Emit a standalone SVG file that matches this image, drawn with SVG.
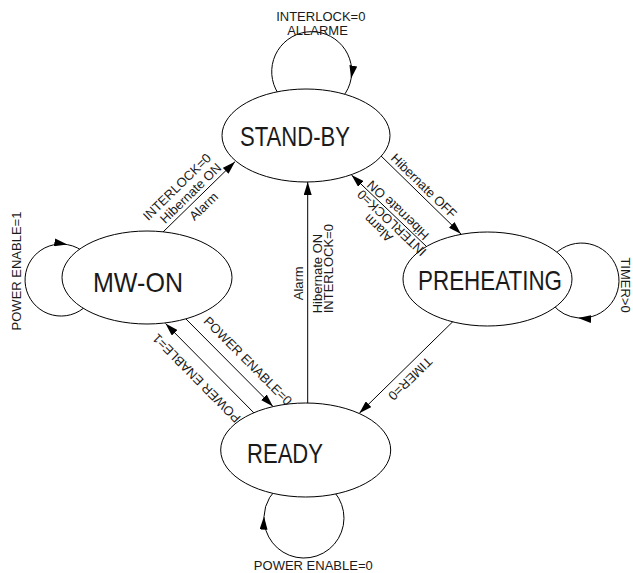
<svg xmlns="http://www.w3.org/2000/svg" width="633" height="573" viewBox="0 0 633 573">
<defs>
<style>
.edge{fill:none;stroke:#000;stroke-width:1}
.st{fill:#fff;stroke:#000;stroke-width:1}
.nm{font-family:"Liberation Sans",Arial,sans-serif;font-size:28px;fill:#1a1a1a}
.lb{font-family:"Liberation Sans",Arial,sans-serif;font-size:13px;fill:#1a1a1a}
.c{text-anchor:middle}
</style>
<marker id="arr" viewBox="0 0 13 8" refX="13" refY="4" markerWidth="13" markerHeight="8" markerUnits="userSpaceOnUse" orient="auto">
<path d="M0,0 L13,4 L0,8 z" fill="#000"/>
</marker>
</defs>
<rect width="633" height="573" fill="#fff"/>
<g id="connectors">
<!-- self loops -->
<path class="edge" d="M281.1,97.4 A40,40 0 1 1 351.1,78.6" marker-end="url(#arr)"/>
<path class="edge" d="M351.1,78.6 A40,40 0 0 1 342.3,97.4"/>
<path class="edge" d="M86.5,305.5 A36,36 0 1 1 67.3,244.6" marker-end="url(#arr)"/>
<path class="edge" d="M67.3,244.6 A36,36 0 0 1 86.5,254.5"/>
<path class="edge" d="M555,254 A37.5,37.5 0 1 1 578.2,317.9" marker-end="url(#arr)"/>
<path class="edge" d="M578.2,317.9 A37.5,37.5 0 0 1 552.8,304.6"/>
<path class="edge" d="M324,483.4 A40,40 0 1 1 264,516.6" marker-end="url(#arr)"/>
<path class="edge" d="M264,516.6 A40,40 0 0 1 284,483.4"/>
<!-- straight -->
<line class="edge" x1="162" y1="233" x2="235" y2="161.7" marker-end="url(#arr)"/>
<line class="edge" x1="378" y1="153" x2="461" y2="234" marker-end="url(#arr)"/>
<line class="edge" x1="427" y1="247" x2="351.5" y2="175" marker-end="url(#arr)"/>
<line class="edge" x1="455" y1="319.5" x2="359.3" y2="413.3" marker-end="url(#arr)"/>
<line class="edge" x1="183" y1="316" x2="273" y2="406.5" marker-end="url(#arr)"/>
<line class="edge" x1="257" y1="416" x2="165.5" y2="323.5" marker-end="url(#arr)"/>
<line class="edge" x1="307.7" y1="410" x2="307.7" y2="182" marker-end="url(#arr)"/>
</g>
<g id="standby">
<ellipse class="st" cx="306" cy="135.5" rx="84" ry="46.5"/>
<text class="nm" x="240" y="146" textLength="110" lengthAdjust="spacingAndGlyphs">STAND-BY</text>
</g>
<g id="mwon">
<ellipse class="st" cx="147" cy="277.5" rx="85" ry="46.5"/>
<text class="nm" x="93" y="292" textLength="90" lengthAdjust="spacingAndGlyphs">MW-ON</text>
</g>
<g id="preheating">
<ellipse class="st" cx="487.5" cy="279" rx="84.5" ry="47"/>
<text class="nm" x="418" y="290" textLength="144" lengthAdjust="spacingAndGlyphs">PREHEATING</text>
</g>
<g id="ready">
<ellipse class="st" cx="305.7" cy="450" rx="85" ry="47"/>
<text class="nm" x="247" y="463" textLength="76" lengthAdjust="spacingAndGlyphs">READY</text>
</g>
<g id="edge-labels" class="lb">
<text class="c" x="320.8" y="20.5">INTERLOCK=0</text>
<text class="c" x="317.5" y="35.2">ALLARME</text>
<text class="c" x="313.3" y="569.5">POWER ENABLE=0</text>
<text class="c" transform="translate(20.7,271) rotate(-90)">POWER ENABLE=1</text>
<text class="c" transform="translate(620.5,285) rotate(90)">TIMER&gt;0</text>
<text class="c" transform="translate(303,283.3) rotate(-90)">Alarm</text>
<text transform="translate(321.7,313.3) rotate(-90)">Hibernate ON</text>
<text transform="translate(333.3,313.3) rotate(-90)">INTERLOCK=0</text>
<g transform="translate(200,195.85) rotate(-44.3)">
<text class="c" x="-10.3" y="-18">INTERLOCK=0</text>
<text class="c" x="-4.9" y="-4">Hibernate ON</text>
<text class="c" x="-4.7" y="14.5">Alarm</text>
</g>
<g transform="translate(421.35,195.35) rotate(44.3)">
<text class="c" x="-4.8" y="-4">Hibernate OFF</text>
</g>
<g transform="translate(388.65,210.35) rotate(223.6)">
<text class="c" x="-6.7" y="11">Hibernate ON</text>
<text class="c" x="-11" y="-2.5">INTERLOCK=0</text>
<text class="c" x="-4.8" y="-15.5">Alarm</text>
</g>
<g transform="translate(405.5,368) rotate(135.6)">
<text class="c" x="4" y="-6.5">TIMER=0</text>
</g>
<g transform="translate(229.85,363.25) rotate(45.07)">
<text class="c" x="11" y="-10">POWER ENABLE=0</text>
</g>
<g transform="translate(209.25,367.75) rotate(225.3)">
<text class="c" x="1.5" y="-12">POWER ENABLE=1</text>
</g>
</g>
</svg>
